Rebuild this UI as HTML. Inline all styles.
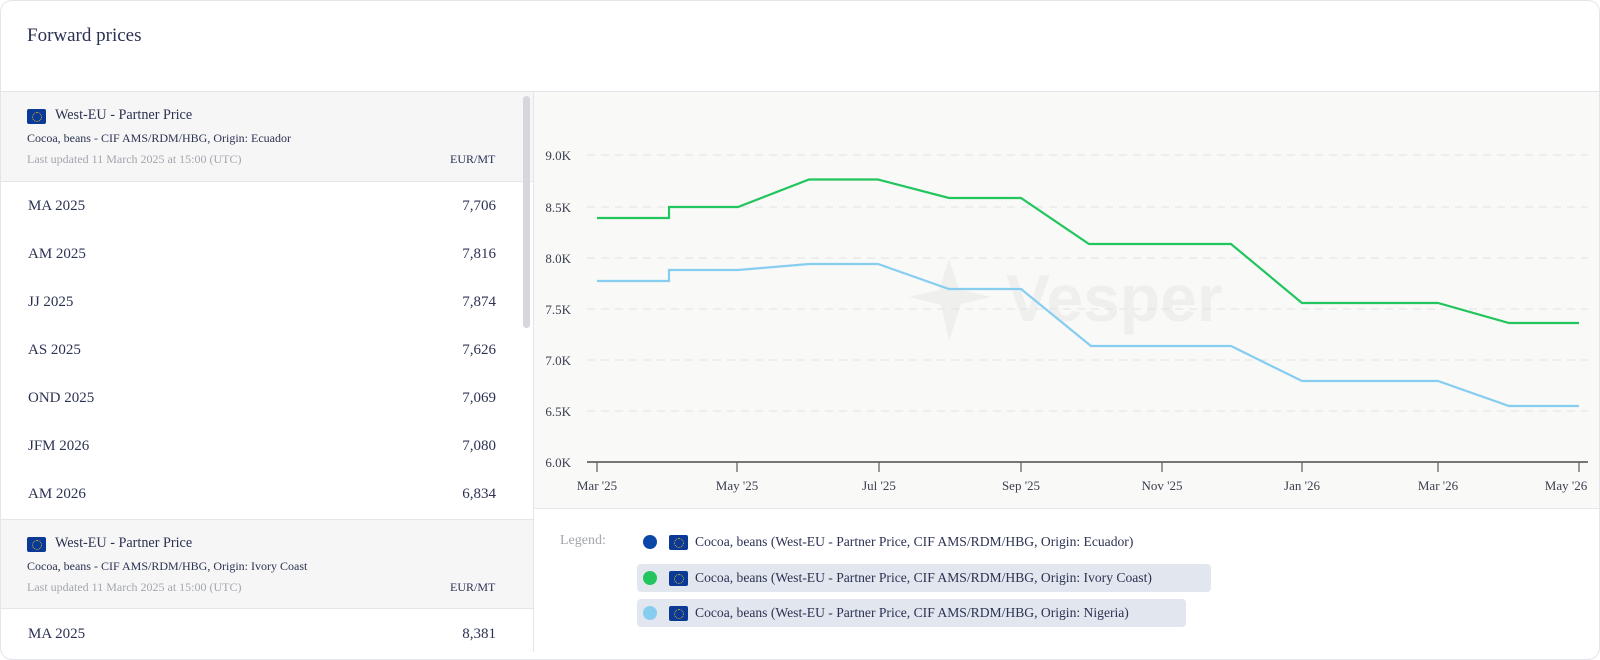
<!DOCTYPE html>
<html><head><meta charset="utf-8"><style>
*{box-sizing:border-box;margin:0;padding:0}
body{width:1600px;height:645px;background:#fff;font-family:"Liberation Serif",serif;color:#2b3252;position:relative;overflow:hidden}
.card{position:absolute;left:0;top:0;width:1600px;height:660px;border:1px solid #e3e5ea;border-radius:12px;overflow:hidden}
.abs{position:absolute}
.title{left:26px;top:24px;font-size:19px}
.hdr{left:0;width:532px;height:90px;background:#f6f6f6;border-bottom:1px solid #e6e6e6}
.flag{position:absolute;width:19px;height:15px;background:#0b3a96;border-radius:2px}
.flag:after{content:"";position:absolute;left:5px;top:3px;width:8px;height:8px;border:1px dotted #d9b530;border-radius:50%}
.row{position:absolute;left:27px;width:468px;font-size:15px;display:flex;justify-content:space-between}
.leg{position:absolute;font-size:13.6px;height:28px;display:flex;align-items:center;padding-left:6px;border-radius:4px}
.dot{width:14px;height:14px;border-radius:50%;margin-right:12px}
</style></head><body>
<div class="card">
<div class="abs title">Forward prices</div>
<div class="abs" style="left:0;top:90px;width:1600px;height:1px;background:#e3e5ea"></div>
<div class="abs" style="left:532px;top:91px;width:1px;height:560px;background:#e3e5ea"></div>

<div class="abs hdr" style="top:91px">
 <div class="flag" style="left:26px;top:17px"></div>
 <div class="abs" style="left:54px;top:15px;font-size:14.2px">West-EU - Partner Price</div>
 <div class="abs" style="left:26px;top:39px;font-size:12px">Cocoa, beans - CIF AMS/RDM/HBG, Origin: Ecuador</div>
 <div class="abs" style="left:26px;top:60px;font-size:12px;color:#a3a6ae">Last updated 11 March 2025 at 15:00 (UTC)</div>
 <div class="abs" style="left:449px;top:60px;font-size:12px">EUR/MT</div>
</div>
<div class="row" style="top:197px"><span>MA 2025</span><span>7,706</span></div>
<div class="row" style="top:245px"><span>AM 2025</span><span>7,816</span></div>
<div class="row" style="top:293px"><span>JJ 2025</span><span>7,874</span></div>
<div class="row" style="top:341px"><span>AS 2025</span><span>7,626</span></div>
<div class="row" style="top:389px"><span>OND 2025</span><span>7,069</span></div>
<div class="row" style="top:437px"><span>JFM 2026</span><span>7,080</span></div>
<div class="row" style="top:485px"><span>AM 2026</span><span>6,834</span></div>
<div class="abs hdr" style="top:518px;border-top:1px solid #e6e6e6">
 <div class="flag" style="left:26px;top:17px"></div>
 <div class="abs" style="left:54px;top:15px;font-size:14.2px">West-EU - Partner Price</div>
 <div class="abs" style="left:26px;top:39px;font-size:12px">Cocoa, beans - CIF AMS/RDM/HBG, Origin: Ivory Coast</div>
 <div class="abs" style="left:26px;top:60px;font-size:12px;color:#a3a6ae">Last updated 11 March 2025 at 15:00 (UTC)</div>
 <div class="abs" style="left:449px;top:60px;font-size:12px">EUR/MT</div>
</div>
<div class="row" style="top:625px"><span>MA 2025</span><span>8,381</span></div>
<div class="abs" style="left:522px;top:95px;width:7px;height:232px;background:#d5d7dc;border-radius:4px"></div>

<svg class="abs" style="left:533px;top:91px" width="1067" height="417" viewBox="533 91 1067 417">
<rect x="533" y="91" width="1067" height="417" fill="#f9f9f8"/>
<path d="M948 258 L958 288 L990 296 L960 303 L948 340 L940 304 L908 296 L938 289 Z" fill="#efefee"/>
<text x="1005" y="320" font-family="Liberation Sans,sans-serif" font-weight="bold" font-size="66" fill="#efefee">Vesper</text>
<g stroke="#e3e3e3" stroke-dasharray="8,6" stroke-width="1">
<line x1="586" x2="1587" y1="154" y2="154"/><line x1="586" x2="1587" y1="206" y2="206"/>
<line x1="586" x2="1587" y1="257" y2="257"/><line x1="586" x2="1587" y1="308" y2="308"/>
<line x1="586" x2="1587" y1="359" y2="359"/><line x1="586" x2="1587" y1="410" y2="410"/>
</g>
<g font-size="13" fill="#3a3f4f" text-anchor="end">
<text x="570" y="159">9.0K</text><text x="570" y="211">8.5K</text><text x="570" y="262">8.0K</text>
<text x="570" y="313">7.5K</text><text x="570" y="364">7.0K</text><text x="570" y="415">6.5K</text><text x="570" y="466">6.0K</text>
</g>
<line x1="586" x2="1587" y1="461" y2="461" stroke="#777" stroke-width="2"/>
<g stroke="#666" stroke-width="1.3">
<line x1="596" x2="596" y1="461" y2="471"/><line x1="736" x2="736" y1="461" y2="471"/>
<line x1="878" x2="878" y1="461" y2="471"/><line x1="1020" x2="1020" y1="461" y2="471"/>
<line x1="1161" x2="1161" y1="461" y2="471"/><line x1="1301" x2="1301" y1="461" y2="471"/>
<line x1="1437" x2="1437" y1="461" y2="471"/><line x1="1578" x2="1578" y1="461" y2="471"/>
</g>
<g font-size="13" fill="#3a3f4f" text-anchor="middle">
<text x="596" y="489">Mar '25</text><text x="736" y="489">May '25</text><text x="878" y="489">Jul '25</text>
<text x="1020" y="489">Sep '25</text><text x="1161" y="489">Nov '25</text><text x="1301" y="489">Jan '26</text>
<text x="1437" y="489">Mar '26</text><text x="1565" y="489">May '26</text>
</g>
<polyline fill="none" stroke="#22c55e" stroke-width="2.2" points="596,217 668,217 668,206 737,206 808,178.5 877,178.5 948,197 1020,197 1088,243 1230,243 1301,302 1437,302 1508,322 1578,322"/>
<polyline fill="none" stroke="#87cdf0" stroke-width="2.2" points="596,280 668,280 668,269 737,269 808,263 877,263 948,288 1020,288 1090,345 1230,345 1301,380 1437,380 1508,405 1578,405"/>
</svg>
<div class="abs" style="left:533px;top:507px;width:1067px;height:1px;background:#e8e8e8"></div>

<div class="abs" style="left:559px;top:532px;font-size:14px;color:#a3a6ae">Legend:</div>
<div class="leg" style="left:636px;top:527px"><div class="dot" style="background:#0b47a8"></div><div class="flag" style="position:relative;margin-right:7px"></div>Cocoa, beans (West-EU - Partner Price, CIF AMS/RDM/HBG, Origin: Ecuador)</div>
<div class="leg" style="left:636px;top:563px;width:574px;background:#e2e7ef"><div class="dot" style="background:#22c55e"></div><div class="flag" style="position:relative;margin-right:7px"></div>Cocoa, beans (West-EU - Partner Price, CIF AMS/RDM/HBG, Origin: Ivory Coast)</div>
<div class="leg" style="left:636px;top:598px;width:549px;background:#e2e7ef"><div class="dot" style="background:#87cdf0"></div><div class="flag" style="position:relative;margin-right:7px"></div>Cocoa, beans (West-EU - Partner Price, CIF AMS/RDM/HBG, Origin: Nigeria)</div>
</div>
</body></html>
